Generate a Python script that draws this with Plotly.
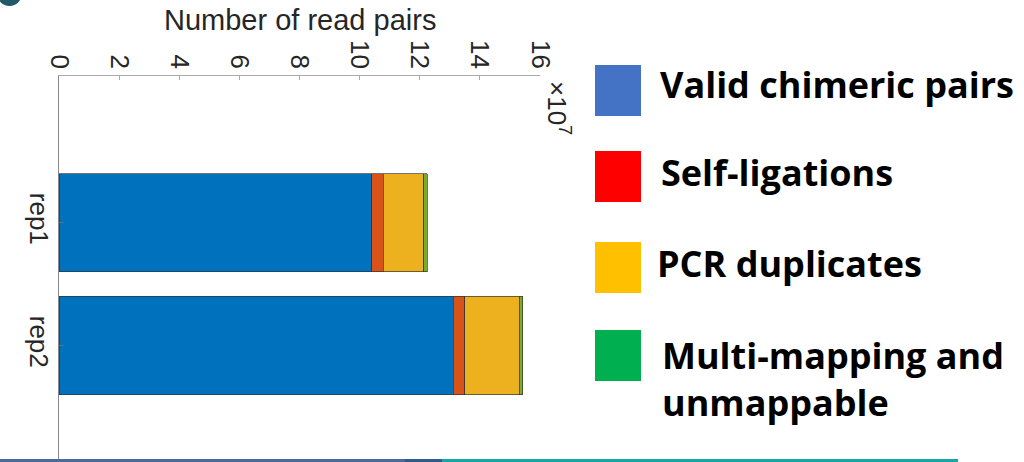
import plotly.graph_objects as go

# ---------------- data ----------------
categories = ["rep1", "rep2"]
series_names = ["Valid chimeric pairs", "Self-ligations", "PCR duplicates",
                "Multi-mapping and unmappable"]
valid_pairs = [10.40e7, 13.12e7]
self_ligations = [0.38e7, 0.37e7]
pcr_duplicates = [1.36e7, 1.82e7]
multi_mapping = [0.11e7, 0.12e7]
bar_colors = ["#0072BD", "#D95319", "#EDB120", "#77AC30"]

x_tick_vals = [0, 2e7, 4e7, 6e7, 8e7, 10e7, 12e7, 14e7, 16e7]
x_tick_text = ["0", "2", "4", "6", "8", "10", "12", "14", "16"]

legend_labels = ["Valid chimeric pairs", "Self-ligations", "PCR duplicates",
                 "Multi-mapping and<br>unmappable"]
legend_colors = ["#4472C4", "#FF0000", "#FFC000", "#00B050"]

# ---------------- geometry helpers ----------------
W, H = 1024, 462
L, R, T, B = 59, 484, 76, 0
PW, PH = W - L - R, H - T - B


def px2x(px):
    return (px - L) / PW


def py2y(py):
    return 1 - (py - T) / PH


fig = go.Figure()
for name, vals, col in zip(series_names,
                           [valid_pairs, self_ligations, pcr_duplicates, multi_mapping],
                           bar_colors):
    fig.add_trace(go.Bar(
        y=categories, x=vals, name=name, orientation="h",
        marker=dict(color=col, line=dict(color="rgba(50,50,50,0.85)", width=0.8)),
        width=0.8, showlegend=False,
    ))

axis_font = dict(family="Liberation Sans, Arial, sans-serif", size=26, color="#262626")

fig.update_layout(
    width=W, height=H,
    margin=dict(l=L, r=R, t=T, b=B, autoexpand=False),
    paper_bgcolor="white", plot_bgcolor="white",
    barmode="stack",
    xaxis=dict(
        side="top", range=[0, 16e7], tickvals=x_tick_vals, ticktext=x_tick_text,
        tickangle=90, ticks="inside", ticklen=4, tickcolor="#aaaaaa",
        showline=True, linecolor="#aaaaaa", linewidth=1, ticklabelstandoff=-3,
        showgrid=False, zeroline=False, tickfont=axis_font, automargin=False,
    ),
    yaxis=dict(
        type="category", categoryarray=categories, range=[1.946, -1.193],
        tickangle=90, ticks="inside", ticklen=5, tickcolor="#666666",
        showline=True, linecolor="#888888", linewidth=1, ticklabelstandoff=-3,
        showgrid=False, zeroline=False, tickfont=axis_font, automargin=False,
    ),
    yaxis2=dict(
        overlaying="y", side="right", range=[1.946, -1.193], tickvals=[0, 1],
        ticks="inside", ticklen=4, tickcolor="#c8c8c8", showticklabels=False,
        showline=False, showgrid=False, zeroline=False,
    ),
)

annotations = []
# axis title
annotations.append(dict(
    text="Number of read pairs", xref="paper", yref="paper",
    x=px2x(300), y=py2y(20), xanchor="center", yanchor="middle", showarrow=False,
    font=dict(family="Liberation Sans, Arial, sans-serif", size=29, color="#262626"),
))
# exponent
annotations.append(dict(
    text="×10<sup>7</sup>", xref="paper", yref="paper",
    x=px2x(558), y=py2y(108), xanchor="center", yanchor="middle", showarrow=False,
    textangle=90,
    font=dict(family="Liberation Sans, Arial, sans-serif", size=26, color="#262626"),
))

shapes = []
# cropped panel-letter blob at the top-left corner
shapes.append(dict(type="circle", xref="paper", yref="paper",
                   x0=px2x(-3), x1=px2x(22), y0=py2y(6), y1=py2y(-20),
                   fillcolor="#1F5A66", line=dict(width=0)))

sq_tops = [65, 151, 242, 330]
text_y = [85, 172, 263, 329]
text_x = [658, 659, 655, 660]
for lab, col, top, ty, tx in zip(legend_labels, legend_colors, sq_tops, text_y, text_x):
    shapes.append(dict(type="rect", xref="paper", yref="paper",
                       x0=px2x(595), x1=px2x(641), y0=py2y(top), y1=py2y(top + 51),
                       fillcolor=col, line=dict(width=0)))
    multi = "<br>" in lab
    annotations.append(dict(
        text=lab, xref="paper", yref="paper", x=px2x(tx), y=py2y(ty),
        xanchor="left", yanchor="top" if multi else "middle", align="left",
        showarrow=False,
        font=dict(family="Open Sans, sans-serif", size=36, color="#000000", weight="bold"),
    ))

# bottom decorative rule
for x0, x1, col in [(0, 405, "#4A6A9C"), (405, 442, "#2F5C8E"), (442, 958, "#16A6A6")]:
    shapes.append(dict(type="rect", xref="paper", yref="paper",
                       x0=px2x(x0), x1=px2x(x1), y0=py2y(462), y1=py2y(459),
                       fillcolor=col, line=dict(width=0)))

fig.update_layout(annotations=annotations, shapes=shapes)
fig.write_html("out.html", config={"displayModeBar": False},
               post_script="document.body.style.margin='0';")
